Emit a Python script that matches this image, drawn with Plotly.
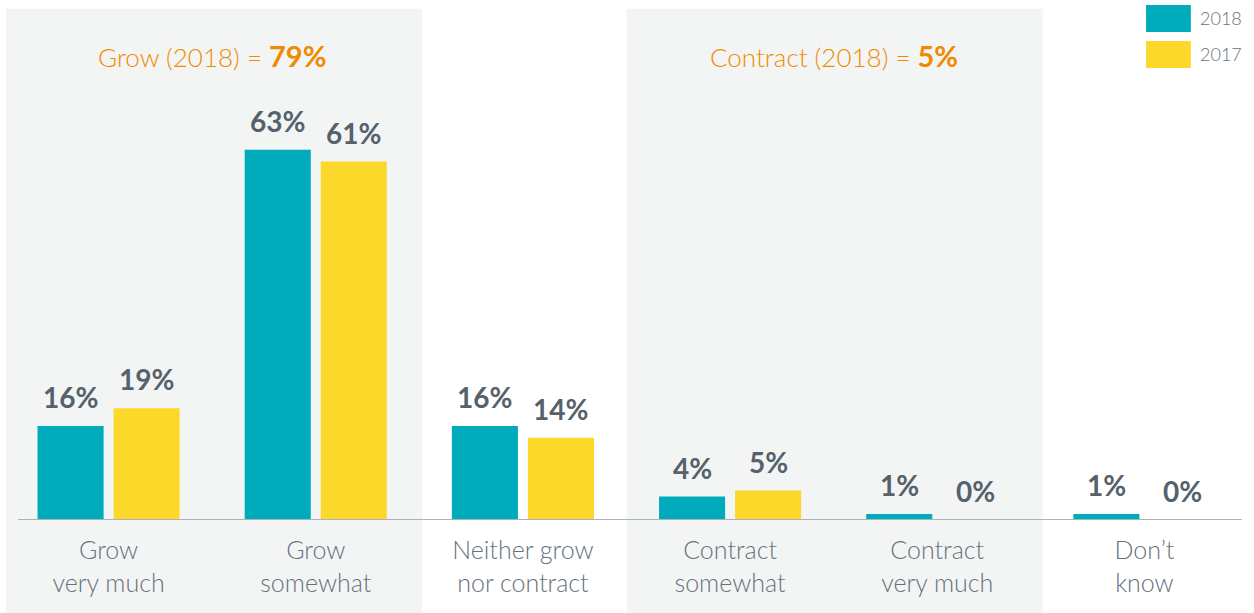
import plotly.graph_objects as go

C = {
    'teal': '#00abbb', 'yellow': '#fcd82a', 'band': '#f3f5f4',
    'orange': '#f08a00', 'label': '#55616b', 'tick': '#66727c',
    'axis': '#aab3ba',
}

categories = ['Grow<br>very much', 'Grow<br>somewhat', 'Neither grow<br>nor contract',
              'Contract<br>somewhat', 'Contract<br>very much', 'Don’t<br>know']
vals_2018 = [16, 63, 16, 4, 1, 1]
vals_2017 = [19, 61, 14, 5, 0, 0]
series = [('2018', vals_2018, C['teal']), ('2017', vals_2017, C['yellow'])]

FONT = 'Lato, sans-serif'
BAR_W = 0.319
OFFSETS = [-0.343, 0.024]

fig = go.Figure()
idx = list(range(len(categories)))
for (name, vals, col), off in zip(series, OFFSETS):
    fig.add_trace(go.Bar(
        x=idx, y=vals, name=name, marker=dict(color=col, line=dict(width=0)),
        width=BAR_W, offset=off, showlegend=False, hoverinfo='skip',
    ))

# value labels above bars
for (name, vals, col), off in zip(series, OFFSETS):
    for i, v in enumerate(vals):
        fig.add_annotation(
            x=i + off + BAR_W / 2, y=v, xref='x', yref='y', text=f'<b>{v}%</b>',
            showarrow=False, yanchor='bottom', yshift=10,
            font=dict(size=28, color=C['label'], family=FONT),
        )

# shaded bands
for x0, x1 in [(-0.495, 1.513), (2.502, 4.51)]:
    fig.add_shape(type='rect', xref='x', yref='paper', x0=x0, x1=x1,
                  y0=-0.2, y1=0.983, fillcolor=C['band'], line_width=0, layer='below')

# baseline
fig.add_shape(type='line', xref='paper', yref='y', x0=0.0105, x1=0.995, y0=0, y1=0,
              line=dict(color=C['axis'], width=2))

# band headers
for xc, lab, pct in [(0.5, 'Grow (2018) = ', '79%'), (3.5, 'Contract (2018) = ', '5%')]:
    fig.add_annotation(
        x=xc, y=0.894, xref='x', yref='paper', showarrow=False, yanchor='middle',
        text=f'{lab}<b><span style="font-size:29px">{pct}</span></b>',
        font=dict(size=26, color=C['orange'], family=FONT, weight=300),
    )

# legend boxes
for k, (name, vals, col) in enumerate(series):
    y0 = 1 - (5 + 36 * k) / 520
    fig.add_shape(type='rect', xref='paper', yref='paper',
                  x0=0.918, x1=0.954, y0=y0 - 27 / 520, y1=y0,
                  fillcolor=col, line_width=0)
    fig.add_annotation(x=0.96, y=y0 - 13.5 / 520, xref='paper', yref='paper',
                       text=name, showarrow=False, xanchor='left', yanchor='middle',
                       font=dict(size=18, color=C['tick'], family=FONT, weight=300))

fig.update_layout(
    width=1254, height=613,
    paper_bgcolor='white', plot_bgcolor='rgba(0,0,0,0)',
    margin=dict(l=5, r=6, t=0, b=93),
    font=dict(family=FONT),
    xaxis=dict(tickmode='array', tickvals=idx, ticktext=categories,
               range=[-0.5, 5.5], showgrid=False, zeroline=False, showline=False,
               ticks='', ticklabelstandoff=13,
               tickfont=dict(size=25, color=C['tick'], family=FONT, weight=300)),
    yaxis=dict(range=[0, 88.5], visible=False),
)
fig.write_html('out.html', config={'displayModeBar': False},
               post_script="document.body.style.margin='0';")
